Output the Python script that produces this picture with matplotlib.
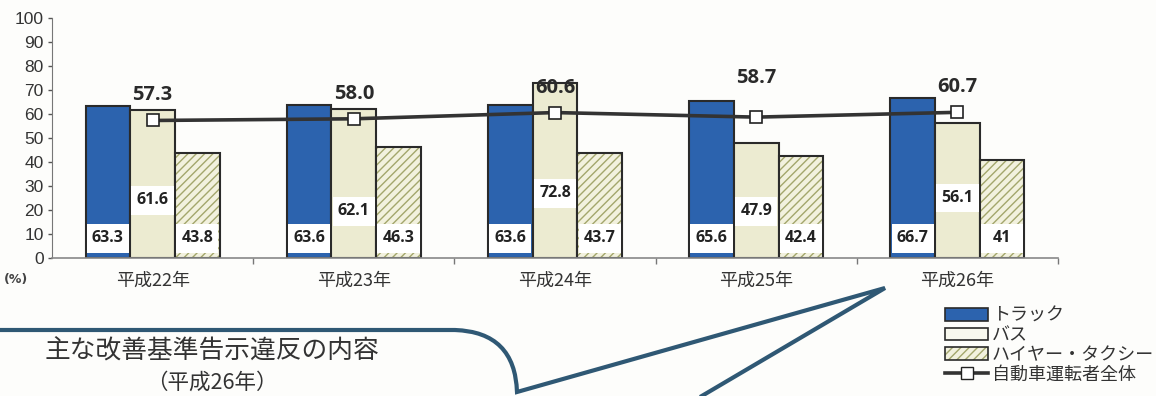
import numpy as np
import matplotlib
matplotlib.use("Agg")
import matplotlib.pyplot as plt
from matplotlib.patches import Patch, Rectangle, PathPatch
from matplotlib.path import Path
from matplotlib.lines import Line2D
from matplotlib.legend_handler import HandlerTuple

plt.rcParams['font.family'] = ['Noto Sans CJK JP', 'DejaVu Sans']

# ---------------- datos ----------------
years = ['平成22年', '平成23年', '平成24年', '平成25年', '平成26年']
truck = [63.3, 63.6, 63.6, 65.6, 66.7]
bus = [61.6, 62.1, 72.8, 47.9, 56.1]
taxi = [43.8, 46.3, 43.7, 42.4, 41]
overall = [57.3, 58.0, 60.6, 58.7, 60.7]

series_names = ['トラック', 'バス', 'ハイヤー・タクシー', '自動車運転者全体']

# altura (en %) donde va la etiqueta de cada barra
truck_label_y = 8.2
taxi_label_y = 8.2
bus_label_y = [24, 19.5, 27, 19.5, 25]
overall_lift = [0, 0, 0, 10, 0]

blue = '#2c63ae'
pale = '#ecebd1'
taxi_face = '#f2f1de'
hatch_col = '#a3a66c'
edge = '#2a2a2a'
ink = '#333333'
callout = '#2f5874'

fig = plt.figure(figsize=(11.56, 3.96), dpi=100)
fig.patch.set_facecolor('#fdfdfb')

ax = fig.add_axes([52 / 1156, 138 / 396, 1006 / 1156, 240 / 396])
ax.set_facecolor('none')
ax.set_zorder(2)

x = np.arange(len(years))
w = 0.222

ax.bar(x - w, truck, w, color=blue, edgecolor=edge, linewidth=1.5, zorder=2)
ax.bar(x, bus, w, color=pale, edgecolor=edge, linewidth=1.5, zorder=2)
# relleno rayado y contorno por separado para que el rayado tenga su propio color
plt.rcParams['hatch.linewidth'] = 1.0
ax.bar(x + w, taxi, w, color=taxi_face, edgecolor=hatch_col, hatch='////',
       linewidth=0, zorder=2)
ax.bar(x + w, taxi, w, fill=False, edgecolor=edge, linewidth=1.5, zorder=2.1)

# etiquetas dentro de las barras, sobre recuadro blanco
def box_label(xc, yc, value):
    ax.add_patch(Rectangle((xc - w / 2 + 0.006, yc - 6), w - 0.012, 12,
                           facecolor='white', edgecolor='none', zorder=3))
    ax.text(xc, yc, '{:g}'.format(value), ha='center', va='center',
            fontsize=11.5, fontweight='bold', family='Open Sans', color='#222',
            zorder=4)

for i in range(len(years)):
    box_label(x[i] - w, truck_label_y, truck[i])
    box_label(x[i], bus_label_y[i], bus[i])
    box_label(x[i] + w, taxi_label_y, taxi[i])

# linea del total
ax.plot(x, overall, color=ink, lw=2.6, marker='s', markersize=8,
        markerfacecolor='white', markeredgecolor='#222', markeredgewidth=1.2,
        zorder=5)
for i, v in enumerate(overall):
    ax.annotate('{:.1f}'.format(v), (x[i], v), xytext=(0, 18 + overall_lift[i]),
                textcoords='offset points', ha='center', va='center',
                fontsize=14.5, fontweight='bold', family='Open Sans',
                color='#2a2a2a', zorder=6)

# ejes
ax.set_xlim(-0.5, len(years) - 0.5)
ax.set_ylim(0, 100)
ax.set_yticks(np.arange(0, 101, 10))
for lab in ax.get_yticklabels():
    lab.set_family('Liberation Sans')
ax.tick_params(axis='y', labelsize=12.5, colors='#555', labelcolor=ink,
               length=3, width=1, pad=3)
ax.set_xticks(x)
ax.set_xticklabels(years, fontsize=13, color=ink)
ax.set_xticks(np.arange(len(years)) + 0.5, minor=True)
ax.tick_params(axis='x', which='major', length=0, pad=10)
ax.tick_params(axis='x', which='minor', length=4, width=1, colors='#777')
for s in ['top', 'right']:
    ax.spines[s].set_visible(False)
ax.spines['left'].set_color('#777')
ax.spines['bottom'].set_color('#888')
ax.spines['bottom'].set_linewidth(1.2)

fig.text(4 / 1156, 1 - 280 / 396, '(%)', fontsize=9, fontweight='bold',
         color='#444', family='DejaVu Sans', va='center')

# leyenda
handles = [
    Patch(facecolor=blue, edgecolor=edge, linewidth=1.2),
    Patch(facecolor='#f8f8ee', edgecolor=edge, linewidth=1.2),
    (Patch(facecolor=taxi_face, edgecolor=hatch_col, hatch='////', linewidth=0),
     Patch(fill=False, edgecolor=edge, linewidth=1.2)),
    Line2D([], [], color=ink, lw=2.6, marker='s', markersize=8,
           markerfacecolor='white', markeredgecolor='#222'),
]
fig.legend(handles, series_names, loc='upper left',
           bbox_to_anchor=(945 / 1156, 1 - 307 / 396), frameon=False,
           fontsize=13, handlelength=2.4, handleheight=0.7,
           handletextpad=0.2, labelspacing=0.08, borderpad=0,
           borderaxespad=0, handler_map={tuple: HandlerTuple(ndivide=1)})
for t in fig.legends[0].get_texts():
    t.set_color(ink)

# recuadro de llamada inferior (coordenadas en pixeles de la figura)
over = fig.add_axes([0, 0, 1, 1], zorder=1)
over.set_xlim(0, 1156)
over.set_ylim(396, 0)
over.axis('off')
verts = [(-5, 330), (455, 330), (515, 332), (517, 392), (885, 288), (695, 400)]
codes = [Path.MOVETO, Path.LINETO, Path.CURVE3, Path.CURVE3, Path.LINETO,
         Path.LINETO]
over.add_patch(PathPatch(Path(verts, codes), facecolor='none',
                         edgecolor=callout, lw=3, joinstyle='miter',
                         capstyle='butt'))
over.text(212, 352, '主な改善基準告示違反の内容', fontsize=18.5, color=ink,
          ha='center', va='center')
over.text(212, 383, '（平成26年）', fontsize=15.5, color=ink,
          ha='center', va='center')

fig.savefig('out.png', dpi=100, facecolor=fig.get_facecolor())
